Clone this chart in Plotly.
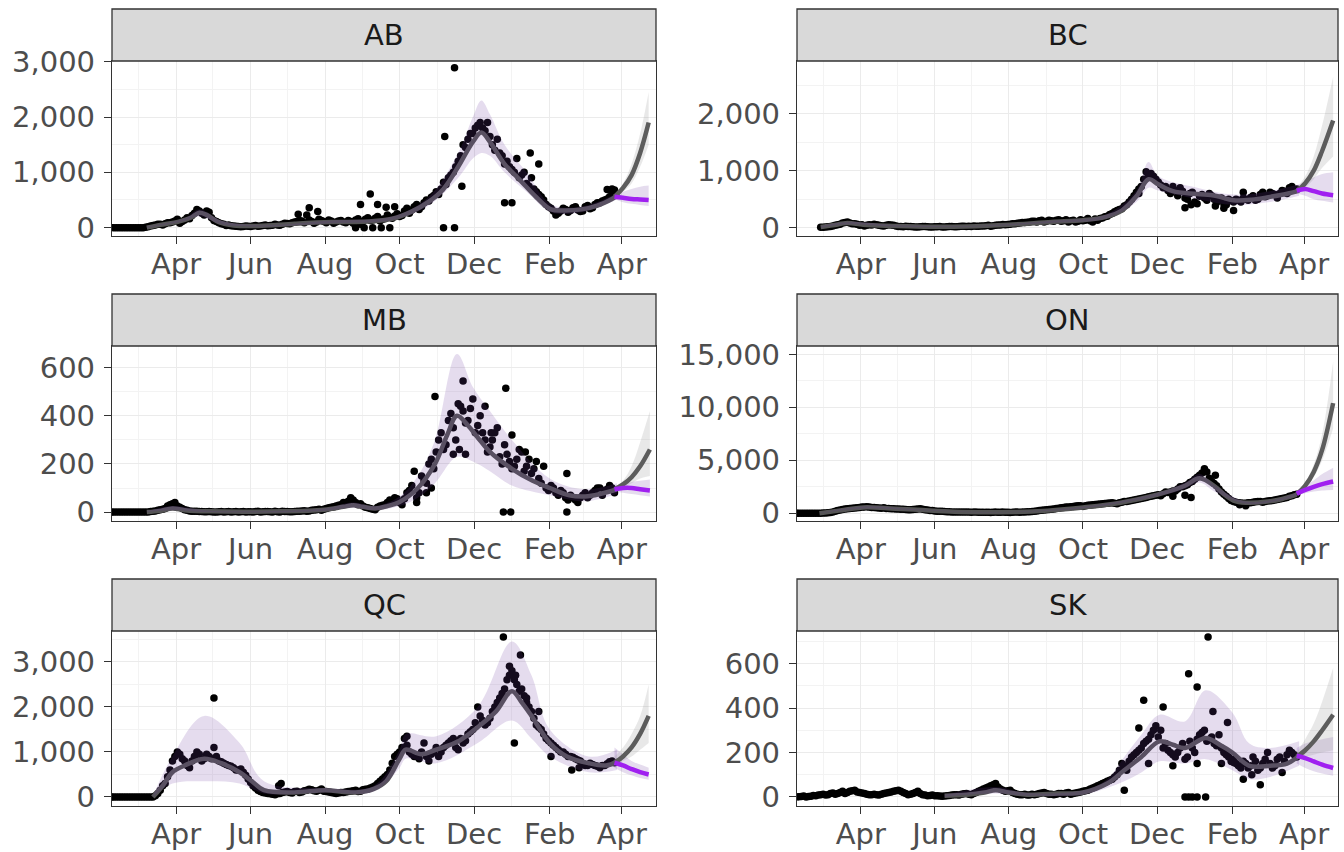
import pandas as pd
import plotly.graph_objects as go

# ---------------------------------------------------------------- data
BASE = pd.Timestamp("2020-02-08")   # day 0
STEP = 4                             # each observed list holds one value every 4 days

provinces = ["AB", "BC", "MB", "ON", "QC", "SK"]

# observed daily cases: list A starts at *_obs_start, list B starts 2 days later
ab_obs_start = 0
ab_obs = [0, 0, 0, 0, 0, 0, 0, 5, 30, 50, 60, 70, 90, 120, 80, 140, 160, 260, 300, 230,
          280, 130, 90, 60, 50, 30, 20, 20, 25, 30, 25, 40, 35, 45, 50, 60, 75, 90, 110, 120,
          230, 110, 100, 130, 90, 120, 100, 130, 90, 110, 140, 60, 150, 130, 170, 120, 160,
          190, 210, 200, 300, 260, 380, 330, 450, 480, 580, 600, 820, 900, 1000, 1200, 1500,
          1600, 1700, 1850, 1800, 1900, 1500, 1600, 1300, 1200, 1050, 1250, 950, 800, 900, 650,
          560, 420, 350, 230, 300, 330, 310, 380, 290, 380, 340, 420, 450, 500, 560, 680]
ab_obs_b = [0, 0, 0, 0, 0, 0, 0, 15, 40, 60, 50, 90, 100, 150, 110, 180, 220, 330, 260, 300,
            180, 110, 70, 40, 35, 25, 15, 30, 20, 40, 30, 50, 40, 60, 45, 80, 70, 100, 130, 90,
            140, 80, 150, 110, 140, 80, 120, 100, 130, 80, 160, 110, 180, 140, 200, 150, 230,
            170, 250, 220, 350, 320, 420, 380, 500, 550, 650, 700, 780, 950, 1100, 1300, 1450,
            1700, 1800, 1900, 1750, 1650, 1400, 1350, 1150, 1100, 1000, 900, 1000, 750, 700, 600,
            500, 380, 300, 260, 350, 280, 360, 320, 300, 400, 360, 450, 480, 520, 600]
bc_obs_start = 20
bc_obs = [5, 10, 20, 40, 60, 90, 80, 70, 40, 30, 50, 60, 40, 30, 50, 40, 20, 15, 20, 15,
          10, 20, 15, 10, 15, 10, 15, 20, 15, 25, 20, 20, 25, 30, 35, 25, 40, 45, 50, 60,
          70, 80, 90, 100, 110, 120, 100, 130, 110, 140, 120, 100, 130, 110, 120, 160, 100,
          130, 170, 200, 250, 300, 330, 400, 500, 620, 720, 980, 950, 850, 750, 720, 600, 650,
          700, 520, 600, 450, 550, 520, 600, 500, 480, 420, 500, 450, 480, 520, 480, 560, 500,
          620, 560, 600, 520, 650, 600, 720, 680]
bc_obs_b = [8, 15, 30, 50, 80, 100, 70, 60, 50, 40, 45, 50, 35, 40, 45, 30, 20, 25, 20, 10,
            15, 20, 10, 15, 20, 12, 18, 15, 20, 25, 25, 30, 25, 30, 40, 35, 45, 55, 55, 70,
            75, 90, 95, 110, 100, 130, 110, 120, 130, 110, 140, 120, 100, 140, 130, 120, 150,
            160, 190, 230, 280, 320, 380, 450, 560, 680, 850, 920, 900, 800, 700, 650, 720, 560,
            640, 500, 620, 420, 580, 480, 560, 440, 520, 400, 470, 500, 450, 500, 530, 480, 580,
            540, 620, 580, 600, 640, 700, 660]
mb_obs_start = 0
mb_obs = [0, 0, 0, 0, 0, 0, 0, 0, 2, 5, 10, 15, 30, 40, 20, 10, 5, 3, 2, 1, 2, 0, 1, 0, 2,
          1, 0, 2, 1, 0, 3, 1, 2, 0, 1, 3, 2, 1, 3, 5, 4, 8, 10, 8, 15, 20, 25, 30, 35, 60,
          40, 35, 20, 15, 10, 25, 30, 50, 60, 40, 55, 90, 170, 80, 130, 200, 180, 300, 260,
          380, 350, 450, 420, 380, 470, 360, 330, 250, 300, 350, 200, 240, 180, 220, 250, 190,
          160, 210, 120, 100, 110, 80, 90, 60, 70, 50, 60, 80, 70, 90, 100, 90, 110, 80]
mb_obs_b = [0, 0, 0, 0, 0, 0, 0, 0, 3, 8, 12, 25, 35, 25, 15, 8, 4, 3, 2, 1, 1, 0, 2, 1, 0,
            2, 1, 0, 1, 2, 0, 2, 1, 3, 0, 2, 1, 2, 4, 6, 5, 9, 12, 12, 18, 22, 28, 40, 45, 50,
            30, 25, 18, 12, 20, 28, 40, 45, 55, 30, 80, 110, 60, 150, 120, 220, 250, 330, 280,
            410, 300, 440, 370, 430, 330, 400, 300, 270, 330, 230, 280, 210, 190, 260, 170, 220,
            180, 140, 190, 90, 100, 70, 80, 50, 60, 40, 70, 60, 80, 100, 70, 95, 100]
on_obs_start = 0
on_obs = [0, 0, 0, 0, 0, 5, 30, 80, 200, 300, 400, 450, 500, 550, 600, 580, 550, 500, 520,
          450, 420, 400, 380, 340, 350, 400, 380, 300, 250, 200, 180, 150, 130, 120, 130, 110,
          100, 120, 90, 100, 80, 110, 90, 100, 80, 120, 100, 130, 150, 180, 250, 300, 350, 400,
          480, 550, 600, 650, 700, 650, 750, 800, 850, 900, 950, 1000, 900, 1050, 1100, 1200,
          1300, 1400, 1500, 1600, 1700, 1650, 2000, 2000, 2100, 2500, 2600, 2900, 3200, 3600,
          4200, 3300, 2800, 2300, 1800, 1400, 1100, 1000, 950, 1000, 1050, 1100, 1050, 1150,
          1200, 1300, 1400, 1500, 1650, 1800]
on_obs_b = [0, 0, 0, 0, 0, 15, 50, 120, 250, 350, 430, 480, 520, 580, 620, 540, 520, 480,
            460, 430, 410, 390, 360, 330, 380, 420, 330, 270, 220, 190, 160, 140, 120, 110, 130,
            120, 110, 100, 100, 90, 95, 100, 110, 90, 100, 110, 120, 140, 170, 220, 280, 330,
            380, 450, 520, 580, 620, 680, 720, 700, 780, 820, 880, 920, 980, 950, 1000, 1100,
            1150, 1250, 1350, 1450, 1550, 1650, 1750, 1850, 1950, 2100, 2300, 2500, 2700, 3000,
            3400, 3800, 3900, 3000, 2600, 2000, 1600, 1200, 1050, 980, 950, 1000, 1080, 1100,
            1100, 1180, 1250, 1350, 1450, 1600, 1750]
qc_obs_start = 0
qc_obs = [0, 0, 0, 0, 0, 0, 0, 0, 0, 30, 150, 300, 600, 900, 950, 800, 650, 900, 950, 850,
          900, 1100, 800, 750, 700, 650, 600, 550, 400, 250, 150, 100, 80, 60, 70, 100, 120,
          90, 130, 110, 150, 160, 130, 180, 120, 100, 80, 100, 110, 130, 150, 130, 170, 200,
          250, 350, 450, 600, 900, 1000, 1300, 1000, 900, 850, 1200, 800, 1000, 900, 1100, 1200,
          1300, 1050, 1200, 1400, 1500, 2000, 1700, 1650, 1900, 2100, 2300, 2600, 2800, 2500,
          2400, 2100, 1900, 1600, 1500, 1300, 1200, 1100, 1000, 950, 900, 850, 800, 700, 750,
          700, 650, 700, 780, 760]
qc_obs_b = [0, 0, 0, 0, 0, 0, 0, 0, 0, 80, 250, 450, 800, 1000, 850, 700, 800, 1000, 800,
            950, 850, 900, 780, 720, 680, 600, 620, 480, 320, 200, 120, 90, 70, 50, 80, 110,
            100, 120, 100, 140, 170, 140, 150, 130, 110, 90, 90, 100, 120, 140, 120, 160, 180,
            220, 300, 400, 500, 750, 950, 1100, 1150, 950, 900, 1000, 900, 950, 1100, 1000, 1150,
            1250, 1100, 1300, 1250, 1450, 1650, 1800, 1600, 1750, 2000, 2200, 2400, 2700, 2600,
            2350, 2250, 2000, 1750, 1550, 1400, 1250, 1150, 1050, 1000, 900, 880, 820, 750, 700,
            720, 680, 700, 740, 800]
sk_obs_start = 0
sk_obs = [0, 2, 0, 3, 5, 10, 8, 15, 12, 20, 15, 25, 30, 20, 15, 10, 12, 8, 15, 20, 25, 30,
          20, 10, 15, 25, 10, 5, 8, 5, 3, 5, 8, 10, 12, 15, 10, 20, 30, 40, 50, 60, 35, 25,
          30, 15, 10, 12, 8, 10, 15, 20, 12, 10, 15, 12, 20, 15, 20, 25, 30, 40, 50, 60, 70,
          80, 100, 150, 120, 180, 200, 220, 250, 280, 320, 300, 240, 200, 180, 220, 170, 250,
          200, 280, 300, 260, 240, 280, 200, 180, 170, 140, 160, 130, 180, 120, 150, 200, 130,
          170, 110, 190, 200, 180]
sk_obs_b = [1, 4, 2, 6, 8, 12, 10, 18, 15, 25, 20, 28, 22, 18, 12, 10, 10, 12, 18, 22, 28,
            25, 15, 12, 20, 15, 8, 6, 5, 4, 4, 6, 10, 8, 14, 12, 15, 25, 35, 45, 55, 45, 30,
            28, 20, 12, 10, 8, 12, 12, 18, 15, 12, 12, 15, 18, 12, 18, 22, 28, 35, 45, 55, 65,
            75, 90, 120, 140, 160, 190, 210, 240, 260, 300, 270, 220, 210, 190, 200, 240, 180,
            220, 260, 290, 250, 270, 230, 220, 190, 160, 150, 130, 150, 140, 160, 130, 170, 150,
            140, 180, 160, 210, 190]

# extra scattered observations (day, value)
ab_out_days = [153, 162, 169, 200, 204, 207, 212, 214, 218, 221, 225, 228, 232, 272, 273, 281, 281, 287, 322, 328, 343, 350, 406, 410]
ab_out_vals = [240, 360, 290, 0, 420, 0, 610, 0, 420, 0, 370, 0, 380, 0, 1650, 0, 2890, 750, 450, 450, 1350, 1150, 690, 700]
bc_out_days = [282, 290, 320, 325, 345, 352, 360, 368]
bc_out_vals = [600, 900, 350, 400, 380, 340, 300, 620]
mb_out_days = [250, 258, 262, 265, 280, 285, 288, 290, 306, 311, 321, 323, 327, 328, 339, 373, 373]
mb_out_vals = [40, 80, 100, 480, 240, 260, 545, 240, 440, 330, 0, 515, 0, 320, 250, 160, 0]
on_out_days = [310, 320, 325, 345, 365, 370]
on_out_vals = [1600, 1700, 1500, 3600, 800, 700]
qc_out_days = [84, 137, 139, 242, 321, 326, 330, 331, 335, 340, 350, 360, 377, 383]
qc_out_vals = [2200, 250, 300, 1350, 3550, 2900, 1200, 2700, 3150, 2200, 1900, 900, 600, 650]
sk_out_days = [270, 282, 286, 290, 302, 310, 320, 323, 323, 326, 330, 330, 330, 337, 339, 343, 350, 355, 360, 368, 375, 382]
sk_out_vals = [30, 310, 435, 150, 405, 140, 0, 0, 555, 0, 0, 495, 150, 0, 720, 385, 150, 335, 155, 80, 100, 55]

# fitted trend (day, value)
ab_fit_days = [29, 40, 55, 65, 72, 78, 88, 100, 120, 150, 180, 210, 230, 245, 260, 272, 284, 296, 303, 310, 322, 335, 348, 360, 372, 385, 398, 410, 416]
ab_fit_vals = [0, 50, 110, 180, 270, 230, 100, 40, 30, 70, 100, 110, 160, 280, 470, 700, 1100, 1550, 1720, 1550, 1150, 850, 550, 330, 310, 330, 400, 520, 600]
bc_fit_days = [20, 30, 42, 55, 80, 110, 140, 175, 210, 236, 255, 268, 280, 290, 298, 310, 330, 345, 360, 375, 390, 405, 414]
bc_fit_vals = [10, 40, 80, 50, 30, 15, 20, 50, 100, 130, 190, 300, 550, 850, 760, 640, 590, 560, 480, 490, 540, 600, 650]
mb_fit_days = [29, 40, 50, 60, 80, 140, 174, 190, 198, 206, 216, 226, 236, 251, 265, 275, 283, 292, 300, 310, 328, 345, 359, 375, 388, 400, 414]
mb_fit_vals = [0, 5, 15, 8, 3, 3, 10, 22, 28, 22, 15, 25, 42, 100, 200, 320, 400, 360, 310, 250, 180, 130, 100, 70, 65, 75, 95]
on_fit_days = [19, 35, 55, 75, 100, 130, 160, 180, 207, 236, 267, 297, 320, 332, 345, 352, 360, 370, 388, 400, 412]
on_fit_vals = [0, 250, 550, 480, 330, 150, 100, 110, 250, 550, 1000, 1750, 2600, 3300, 2500, 1800, 1200, 1000, 1100, 1350, 1750]
qc_fit_days = [34, 42, 50, 60, 76, 90, 105, 115, 125, 150, 175, 200, 215, 225, 236, 241, 254, 266, 285, 300, 315, 328, 336, 344, 359, 373, 391, 405, 414]
qc_fit_vals = [0, 250, 550, 700, 850, 750, 550, 350, 150, 100, 150, 100, 180, 350, 850, 1050, 950, 1050, 1250, 1550, 1900, 2350, 2100, 1800, 1200, 900, 750, 700, 780]
sk_fit_days = [122, 140, 155, 164, 175, 190, 215, 236, 256, 270, 284, 299, 310, 320, 337, 350, 359, 373, 390, 404, 414]
sk_fit_vals = [5, 10, 20, 30, 20, 10, 15, 20, 60, 120, 180, 250, 235, 220, 265, 230, 200, 140, 140, 150, 185]

# uncertainty band of the fit (day, lower, upper)
ab_band_days = [29, 60, 72, 90, 120, 180, 230, 260, 284, 296, 303, 310, 322, 340, 360, 385, 410, 416]
ab_band_lo = [0, 120, 200, 60, 20, 80, 140, 400, 900, 1250, 1350, 1300, 1000, 650, 280, 280, 470, 540]
ab_band_hi = [20, 170, 330, 130, 45, 130, 200, 560, 1350, 2000, 2300, 2050, 1500, 1000, 420, 380, 580, 680]
bc_band_days = [20, 42, 80, 140, 210, 255, 280, 290, 298, 330, 360, 390, 414]
bc_band_lo = [0, 60, 20, 15, 85, 160, 450, 700, 650, 500, 400, 450, 560]
bc_band_hi = [25, 100, 45, 30, 120, 230, 650, 1150, 900, 700, 580, 640, 760]
mb_band_days = [29, 50, 80, 174, 198, 216, 236, 251, 265, 283, 296, 310, 328, 359, 388, 414]
mb_band_lo = [0, 8, 0, 5, 18, 8, 25, 60, 120, 230, 210, 170, 110, 70, 45, 75]
mb_band_hi = [3, 25, 6, 15, 40, 25, 65, 150, 300, 657, 520, 420, 300, 140, 95, 120]
on_band_days = [19, 55, 100, 160, 236, 297, 320, 332, 345, 370, 400, 412]
on_band_lo = [0, 450, 280, 80, 480, 1600, 2300, 2900, 2000, 900, 1250, 1650]
on_band_hi = [20, 650, 380, 120, 620, 1900, 2900, 3700, 2600, 1100, 1450, 1950]
qc_band_days = [34, 50, 76, 105, 125, 175, 215, 236, 241, 266, 300, 328, 344, 359, 391, 414]
qc_band_lo = [0, 300, 350, 300, 80, 100, 120, 650, 850, 750, 1200, 1700, 1300, 900, 550, 600]
qc_band_hi = [20, 900, 1800, 1200, 350, 200, 250, 1050, 1400, 1350, 2000, 3450, 2700, 1500, 900, 1050]
sk_band_days = [122, 164, 190, 236, 256, 270, 284, 299, 320, 337, 359, 373, 390, 414]
sk_band_lo = [0, 15, 5, 10, 40, 70, 110, 160, 150, 170, 120, 80, 90, 140]
sk_band_hi = [10, 45, 18, 30, 80, 180, 280, 370, 340, 480, 380, 240, 220, 250]

# forecasts: grey = current trend, purple = alternative scenario
ab_fc_days = [412, 419, 426, 433, 440]
ab_grey = [560, 720, 950, 1350, 1900]
ab_grey_lo = [540, 650, 800, 1100, 1500]
ab_grey_hi = [600, 800, 1150, 1700, 2450]
ab_purp = [560, 540, 520, 510, 500]
ab_purp_lo = [520, 460, 430, 410, 390]
ab_purp_hi = [600, 650, 700, 740, 760]
bc_fc_days = [412, 419, 426, 433, 442]
bc_grey = [640, 780, 1000, 1350, 1880]
bc_grey_lo = [600, 700, 850, 1050, 1250]
bc_grey_hi = [700, 900, 1250, 1800, 2650]
bc_purp = [650, 680, 640, 600, 570]
bc_purp_lo = [600, 560, 500, 470, 440]
bc_purp_hi = [720, 820, 880, 940, 970]
mb_fc_days = [412, 419, 426, 433, 441]
mb_grey = [95, 115, 145, 190, 260]
mb_grey_lo = [90, 100, 120, 140, 150]
mb_grey_hi = [100, 130, 190, 290, 420]
mb_purp = [95, 100, 100, 95, 90]
mb_purp_lo = [88, 80, 75, 70, 65]
mb_purp_hi = [105, 115, 125, 130, 135]
on_fc_days = [412, 419, 426, 433, 442]
on_grey = [1800, 2600, 3900, 6000, 10400]
on_grey_lo = [1750, 2400, 3400, 5000, 8000]
on_grey_hi = [1900, 2900, 4600, 7500, 14300]
on_purp = [1850, 2200, 2500, 2750, 3000]
on_purp_lo = [1750, 1900, 2050, 2150, 2200]
on_purp_hi = [1950, 2600, 3100, 3700, 4300]
qc_fc_days = [412, 419, 426, 433, 440]
qc_grey = [760, 900, 1100, 1400, 1800]
qc_grey_lo = [700, 800, 900, 1050, 1200]
qc_grey_hi = [900, 1100, 1400, 1800, 2500]
qc_purp = [760, 700, 620, 550, 500]
qc_purp_lo = [650, 550, 480, 420, 380]
qc_purp_hi = [1100, 950, 800, 720, 650]
sk_fc_days = [412, 419, 426, 433, 442]
sk_grey = [180, 210, 250, 300, 370]
sk_grey_lo = [170, 180, 190, 200, 210]
sk_grey_hi = [200, 260, 330, 430, 580]
sk_purp = [185, 175, 160, 145, 130]
sk_purp_lo = [150, 130, 115, 105, 95]
sk_purp_hi = [220, 240, 250, 260, 270]

# axis settings per panel (y range, major tick step)
y_ranges = {"AB": [-151, 3013], "BC": [-147, 2925], "MB": [-37, 690],
            "ON": [-730, 15790], "QC": [-200, 3685], "SK": [-41, 747]}
y_dtick = {"AB": 1000, "BC": 1000, "MB": 200, "ON": 5000, "QC": 1000, "SK": 200}

data = {
    "AB": (ab_obs_start, ab_obs, ab_obs_b, ab_out_days, ab_out_vals, ab_fit_days, ab_fit_vals, ab_band_days, ab_band_lo, ab_band_hi,
           ab_fc_days, ab_grey, ab_grey_lo, ab_grey_hi, ab_purp, ab_purp_lo, ab_purp_hi),
    "BC": (bc_obs_start, bc_obs, bc_obs_b, bc_out_days, bc_out_vals, bc_fit_days, bc_fit_vals, bc_band_days, bc_band_lo, bc_band_hi,
           bc_fc_days, bc_grey, bc_grey_lo, bc_grey_hi, bc_purp, bc_purp_lo, bc_purp_hi),
    "MB": (mb_obs_start, mb_obs, mb_obs_b, mb_out_days, mb_out_vals, mb_fit_days, mb_fit_vals, mb_band_days, mb_band_lo, mb_band_hi,
           mb_fc_days, mb_grey, mb_grey_lo, mb_grey_hi, mb_purp, mb_purp_lo, mb_purp_hi),
    "ON": (on_obs_start, on_obs, on_obs_b, on_out_days, on_out_vals, on_fit_days, on_fit_vals, on_band_days, on_band_lo, on_band_hi,
           on_fc_days, on_grey, on_grey_lo, on_grey_hi, on_purp, on_purp_lo, on_purp_hi),
    "QC": (qc_obs_start, qc_obs, qc_obs_b, qc_out_days, qc_out_vals, qc_fit_days, qc_fit_vals, qc_band_days, qc_band_lo, qc_band_hi,
           qc_fc_days, qc_grey, qc_grey_lo, qc_grey_hi, qc_purp, qc_purp_lo, qc_purp_hi),
    "SK": (sk_obs_start, sk_obs, sk_obs_b, sk_out_days, sk_out_vals, sk_fit_days, sk_fit_vals, sk_band_days, sk_band_lo, sk_band_hi,
           sk_fc_days, sk_grey, sk_grey_lo, sk_grey_hi, sk_purp, sk_purp_lo, sk_purp_hi),
}


def to_dates(days):
    return [BASE + pd.Timedelta(days=int(d)) for d in days]


# ---------------------------------------------------------------- layout geometry
W, H = 1344, 852
col_px = [(112, 656), (797, 1338)]
row_px = [(9, 61, 236), (294, 346, 521), (579, 631, 806)]   # strip top, plot top, plot bottom

FONT = "DejaVu Sans"
FS = 29
BORDER = "#333333"
GRID = "#EBEBEB"
PURPLE_BAND = "rgba(110,60,160,0.18)"
GREY_BAND = "rgba(150,150,150,0.22)"
FIT_COL = "#555555"
GREY_FC = "#5c5c5c"
PURP_FC = "#A020F0"

fig = go.Figure()
layout = dict(width=W, height=H, margin=dict(l=0, r=0, t=0, b=0, autoexpand=False),
              paper_bgcolor="white", plot_bgcolor="white", showlegend=False)
shapes, annotations = [], []

for i, prov in enumerate(provinces):
    r, c = divmod(i, 2)
    n = i + 1
    xs = "x" if n == 1 else f"x{n}"
    ys = "y" if n == 1 else f"y{n}"
    x0, x1 = col_px[c]
    st, pt, pb = row_px[r]
    xdom = [x0 / W, x1 / W]
    ydom = [1 - pb / H, 1 - pt / H]

    (ostart, obs, obs_b, odays, ovals, fdays, fvals, bdays, blo, bhi,
     fcd, grey, glo, ghi, purp, plo, phi) = data[prov]
    days_a = [ostart + STEP * k for k in range(len(obs))]
    days_b = [ostart + 2 + STEP * k for k in range(len(obs_b))]

    # observed points
    fig.add_trace(go.Scatter(x=to_dates(days_a) + to_dates(days_b) + to_dates(odays),
                             y=obs + obs_b + ovals, mode="markers",
                             marker=dict(color="black", size=7.5), xaxis=xs, yaxis=ys, hoverinfo="skip"))
    # fitted line (under the band)
    fig.add_trace(go.Scatter(x=to_dates(fdays), y=fvals, mode="lines",
                             line=dict(color=FIT_COL, width=4.5, shape="spline"), xaxis=xs, yaxis=ys))
    # fit band
    fig.add_trace(go.Scatter(x=to_dates(bdays), y=blo, mode="lines", line=dict(width=0, shape="spline"),
                             xaxis=xs, yaxis=ys, hoverinfo="skip"))
    fig.add_trace(go.Scatter(x=to_dates(bdays), y=bhi, mode="lines", line=dict(width=0, shape="spline"),
                             fill="tonexty", fillcolor=PURPLE_BAND, xaxis=xs, yaxis=ys, hoverinfo="skip"))
    # forecast bands
    fig.add_trace(go.Scatter(x=to_dates(fcd), y=plo, mode="lines", line=dict(width=0, shape="spline"),
                             xaxis=xs, yaxis=ys, hoverinfo="skip"))
    fig.add_trace(go.Scatter(x=to_dates(fcd), y=phi, mode="lines", line=dict(width=0, shape="spline"),
                             fill="tonexty", fillcolor=PURPLE_BAND, xaxis=xs, yaxis=ys, hoverinfo="skip"))
    fig.add_trace(go.Scatter(x=to_dates(fcd), y=glo, mode="lines", line=dict(width=0, shape="spline"),
                             xaxis=xs, yaxis=ys, hoverinfo="skip"))
    fig.add_trace(go.Scatter(x=to_dates(fcd), y=ghi, mode="lines", line=dict(width=0, shape="spline"),
                             fill="tonexty", fillcolor=GREY_BAND, xaxis=xs, yaxis=ys, hoverinfo="skip"))
    # forecast lines
    fig.add_trace(go.Scatter(x=to_dates(fcd), y=grey, mode="lines",
                             line=dict(color=GREY_FC, width=4.5, shape="spline"), xaxis=xs, yaxis=ys))
    fig.add_trace(go.Scatter(x=to_dates(fcd), y=purp, mode="lines",
                             line=dict(color=PURP_FC, width=4.5, shape="spline"), xaxis=xs, yaxis=ys))

    layout["xaxis" if n == 1 else f"xaxis{n}"] = dict(
        domain=xdom, anchor=ys, type="date", range=["2020-02-08 12:00", "2021-04-29"],
        tick0="2020-04-01", dtick="M2", tickformat="%b", ticks="outside", ticklen=7,
        tickwidth=1.3, tickcolor=BORDER, showline=True, mirror=True, linecolor=BORDER,
        linewidth=1.3, showgrid=True, gridcolor=GRID, gridwidth=1.4, zeroline=False,
        automargin=False, tickfont=dict(family=FONT, size=FS, color="#4D4D4D"),
        ticklabelstandoff=-5,
        minor=dict(showgrid=True, gridcolor="#F3F3F3", gridwidth=1, tick0="2020-03-01", dtick="M1"))
    layout["yaxis" if n == 1 else f"yaxis{n}"] = dict(
        domain=ydom, anchor=xs, range=y_ranges[prov], tick0=0, dtick=y_dtick[prov],
        tickformat=",", ticks="outside", ticklen=7, tickwidth=1.3, tickcolor=BORDER,
        showline=True, mirror=True, linecolor=BORDER, linewidth=1.3, showgrid=True,
        gridcolor=GRID, gridwidth=1.4, zeroline=False, automargin=False,
        tickfont=dict(family=FONT, size=FS, color="#4D4D4D"), ticklabelstandoff=3,
        minor=dict(showgrid=True, gridcolor="#F3F3F3", gridwidth=1, tick0=0, dtick=y_dtick[prov] / 2))

    # facet strip
    shapes.append(dict(type="rect", xref="paper", yref="paper", x0=xdom[0], x1=xdom[1],
                       y0=1 - pt / H, y1=1 - st / H, fillcolor="#D9D9D9",
                       line=dict(color=BORDER, width=1.3), layer="above"))
    annotations.append(dict(text=prov, xref="paper", yref="paper", x=(xdom[0] + xdom[1]) / 2,
                            y=1 - (st + pt) / 2 / H, showarrow=False, xanchor="center", yanchor="middle",
                            font=dict(family=FONT, size=FS, color="#1A1A1A")))

layout["shapes"] = shapes
layout["annotations"] = annotations
fig.update_layout(**layout)
fig.write_html("out.html", config={"displayModeBar": False},
               post_script="document.body.style.margin='0';document.body.style.overflow='hidden';")
